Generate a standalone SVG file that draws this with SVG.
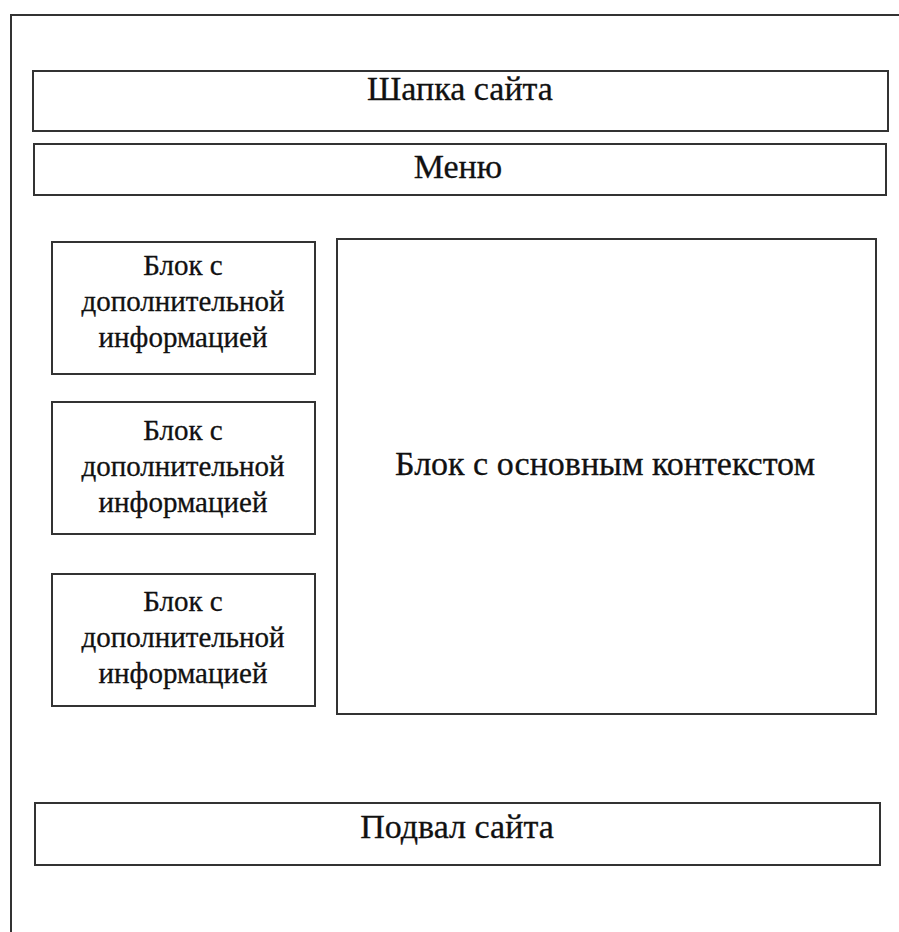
<svg xmlns="http://www.w3.org/2000/svg" width="899" height="932" viewBox="0 0 899 932">
  <style>
    .box { fill: #ffffff; stroke: #333333; stroke-width: 2; }
    .frame { fill: none; stroke: #333333; stroke-width: 2; }
    .lbl { font-family: "Liberation Serif", "Times New Roman", serif; fill: #111111; stroke: #111111; stroke-width: 0.3; text-anchor: middle; }
    .big { font-size: 34px; }
    .small { font-size: 29px; }
  </style>
  <rect width="899" height="932" fill="#ffffff"/>

  <!-- page frame (left and top edges) -->
  <g id="page-frame">
    <polyline class="frame" points="11,932 11,15 899,15"/>
  </g>

  <g id="header">
    <rect class="box" x="33" y="71" width="855" height="60"/>
    <text class="lbl big" x="460" y="100">Шапка сайта</text>
  </g>

  <g id="menu">
    <rect class="box" x="34" y="144" width="852" height="51"/>
    <text class="lbl big" x="458" y="178">Меню</text>
  </g>

  <g id="side-block-1">
    <rect class="box" x="52" y="242" width="263" height="132"/>
    <text class="lbl small" x="183" y="275">Блок с</text>
    <text class="lbl small" x="183" y="311">дополнительной</text>
    <text class="lbl small" x="183" y="347">информацией</text>
  </g>

  <g id="side-block-2">
    <rect class="box" x="52" y="402" width="263" height="132"/>
    <text class="lbl small" x="183" y="440">Блок с</text>
    <text class="lbl small" x="183" y="476">дополнительной</text>
    <text class="lbl small" x="183" y="512">информацией</text>
  </g>

  <g id="side-block-3">
    <rect class="box" x="52" y="574" width="263" height="132"/>
    <text class="lbl small" x="183" y="611">Блок с</text>
    <text class="lbl small" x="183" y="647">дополнительной</text>
    <text class="lbl small" x="183" y="683">информацией</text>
  </g>

  <g id="main-content">
    <rect class="box" x="337" y="239" width="539" height="475"/>
    <text class="lbl big" x="605" y="475">Блок с основным контекстом</text>
  </g>

  <g id="footer">
    <rect class="box" x="35" y="803" width="845" height="62"/>
    <text class="lbl big" x="457" y="838">Подвал сайта</text>
  </g>

  <g id="connectors"/>
</svg>
